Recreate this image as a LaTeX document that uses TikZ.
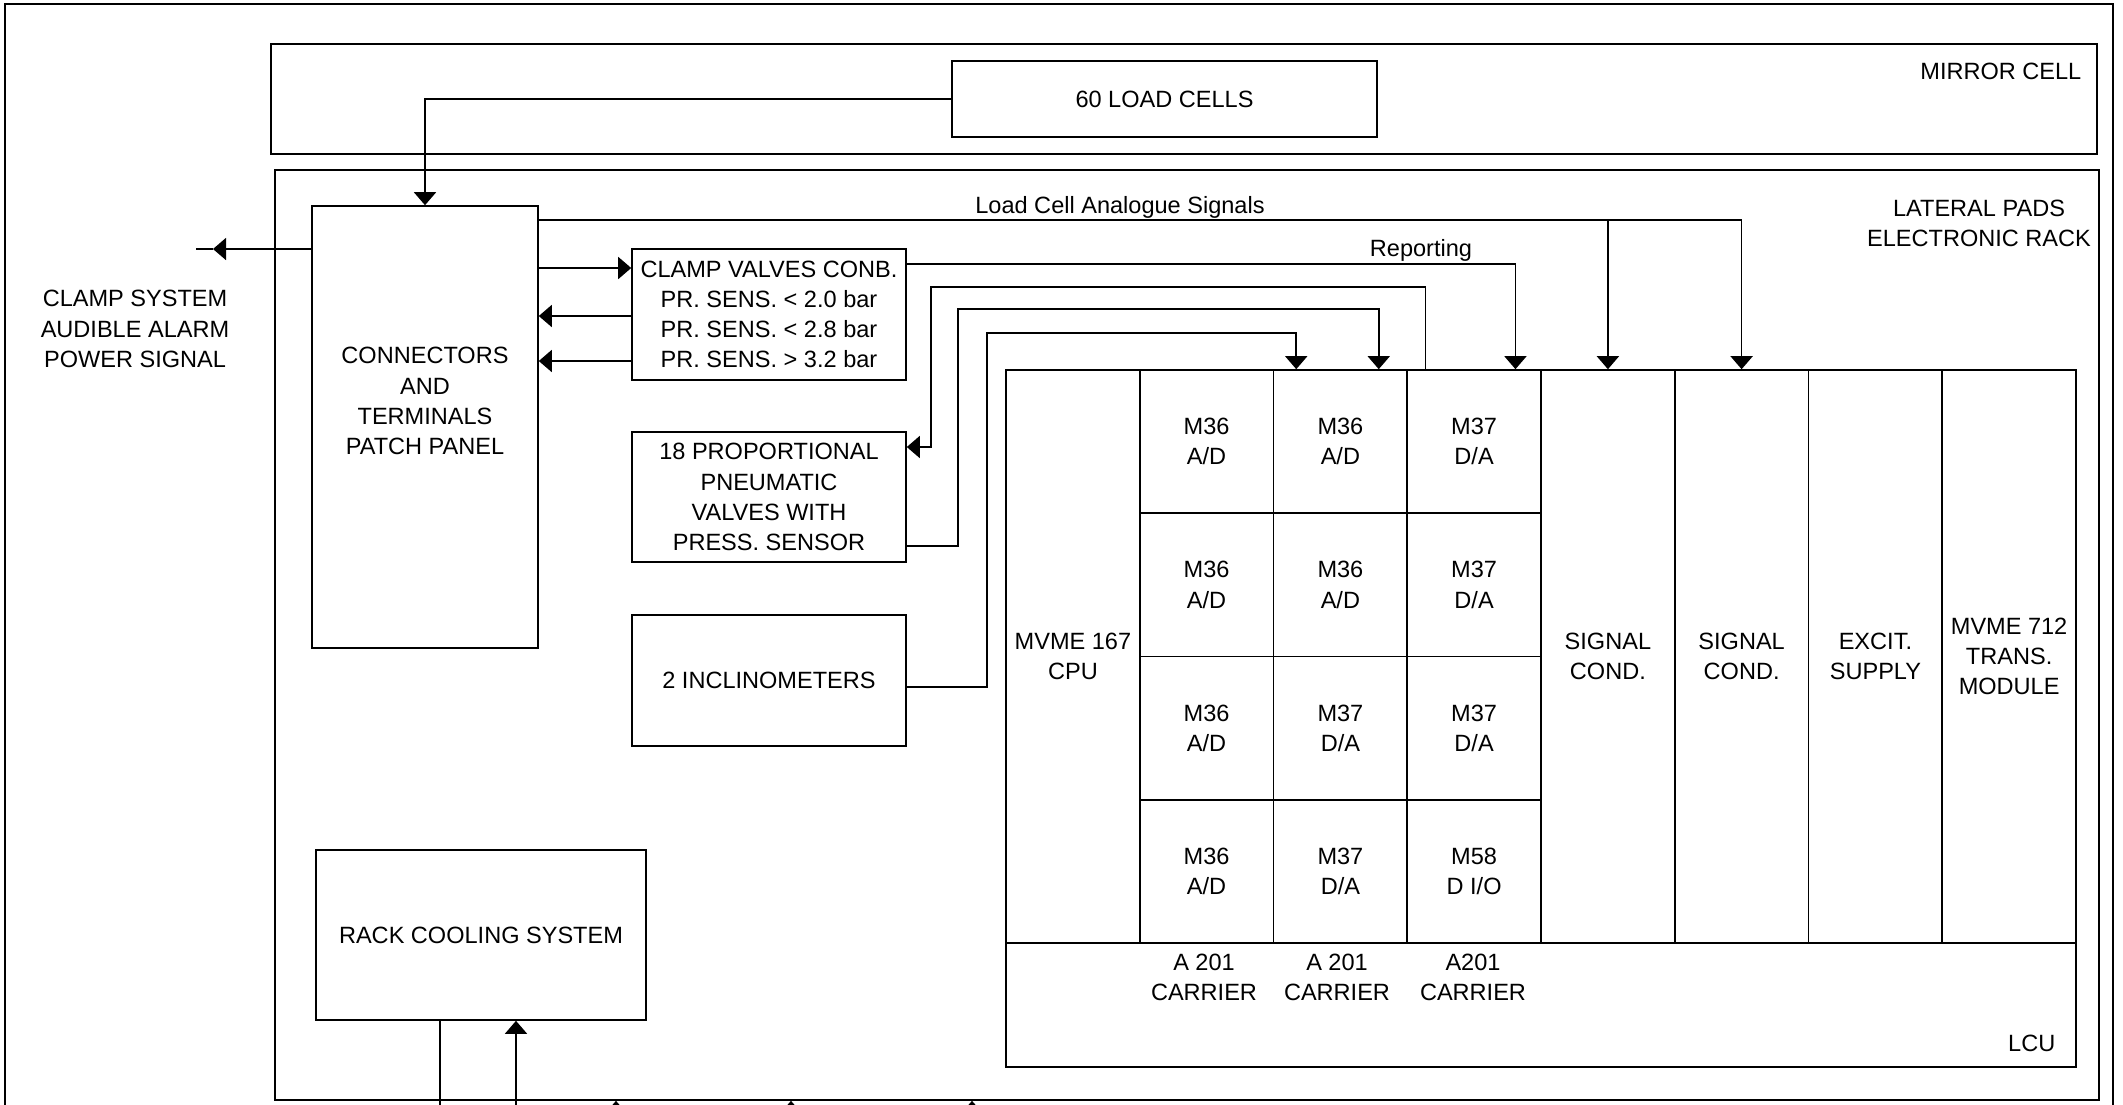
\documentclass[tikz,border=0pt]{standalone}
\usepackage{fontspec}
\setmainfont{Liberation Sans}
\usetikzlibrary{arrows.meta,calc}
\newcommand{\diagfont}{\fontsize{6.7}{8.6}\selectfont}

\begin{document}
\begin{tikzpicture}[
      x=0.1mm,y=-0.1mm,
      box/.style={draw,line width=0.45pt,inner sep=0pt,align=center,font=\diagfont},
      cell/.style={box,minimum width=13.375mm,minimum height=14.325mm},
      slot/.style={box,minimum width=13.375mm,minimum height=57.3mm},
      txt/.style={inner sep=0pt,align=center,font=\diagfont},
      wire/.style={line width=0.45pt},
      arr/.style={wire,-{Triangle[length=1.3mm,width=2.2mm]}},
    ]
    \useasboundingbox (0,0) rectangle (2123,1104);
    \clip (0,0) rectangle (2123,1104);
    \draw[wire] (5,4) rectangle (2113,1130);

    % mirror cell
    \node[box,minimum width=182.6mm,minimum height=11mm] (mirror) at (1184,99) {};
    \node[txt,anchor=east] at (2082,71) {MIRROR CELL};
    \node[box,minimum width=42.5mm,minimum height=7.6mm] (cells) at (1164.5,99) {60 LOAD CELLS};

    % electronic rack
    \node[box,minimum width=182.4mm,minimum height=93mm] (rack) at (1187,635) {};
    \node[txt] at (1979,223) {LATERAL PADS\\ELECTRONIC RACK};

    \node[box,minimum width=22.6mm,minimum height=44.2mm] (patch) at (425,427) {};
    \node[txt] at (425,401) {CONNECTORS\\AND\\TERMINALS\\PATCH PANEL};
    \node[box,minimum width=27.4mm,minimum height=13.1mm] (clamp) at (769,314.5)
         {CLAMP VALVES CONB.\\PR. SENS. < 2.0 bar\\PR. SENS. < 2.8 bar\\PR. SENS. > 3.2 bar};
    \node[box,minimum width=27.4mm,minimum height=13mm] (prop) at (769,497)
         {18 PROPORTIONAL\\PNEUMATIC\\VALVES WITH\\PRESS. SENSOR};
    \node[box,minimum width=27.4mm,minimum height=13.1mm] (incl) at (769,680.5) {2 INCLINOMETERS};
    \node[box,minimum width=33mm,minimum height=17mm] (cool) at (481,935) {RACK COOLING SYSTEM};

    % LCU
    \node[box,minimum width=107mm,minimum height=69.7mm] (lcu) at (1541,718.5) {};
    \node[txt,anchor=east] at (2056,1043) {LCU};
    \node[slot] (cpu) at (1072.9,656.5) {MVME 167\\CPU};
    \node[cell] (m11) at (1206.6,441.6) {M36\\A/D};
    \node[cell] (m12) at (1340.4,441.6) {M36\\A/D};
    \node[cell] (m13) at (1474.1,441.6) {M37\\D/A};
    \node[cell] (m21) at (1206.6,584.9) {M36\\A/D};
    \node[cell] (m22) at (1340.4,584.9) {M36\\A/D};
    \node[cell] (m23) at (1474.1,584.9) {M37\\D/A};
    \node[cell] (m31) at (1206.6,728.1) {M36\\A/D};
    \node[cell] (m32) at (1340.4,728.1) {M37\\D/A};
    \node[cell] (m33) at (1474.1,728.1) {M37\\D/A};
    \node[cell] (m41) at (1206.6,871.4) {M36\\A/D};
    \node[cell] (m42) at (1340.4,871.4) {M37\\D/A};
    \node[cell] (m43) at (1474.1,871.4) {M58\\D I/O};
    \node[slot] (sc1) at (1607.9,656.5) {SIGNAL\\COND.};
    \node[slot] (sc2) at (1741.6,656.5) {SIGNAL\\COND.};
    \node[slot] (excit) at (1875.4,656.5) {EXCIT.\\SUPPLY};
    \node[slot] (trans) at (2009.1,656.5) {MVME 712\\TRANS.\\MODULE};
    \node[txt] at (1204,977) {A 201\\CARRIER};
    \node[txt] at (1337,977) {A 201\\CARRIER};
    \node[txt] at (1473,977) {A201\\CARRIER};

    % signals
    \draw[arr] (cells.west) -| (patch.north);
    \draw[arr] (patch.east |- 0,220) -| (sc2.north);
    \draw[arr] (sc1.north |- 0,220) -- (sc1.north);
    \node[txt] at (1120,207) {Load Cell Analogue Signals};
    \draw[arr] (clamp.east |- 0,264) -| ($(m13.north west)+(109,0)$);
    \node[txt] at (1421,250) {Reporting};
    \draw[arr] ($(m13.north west)+(19,0)$) |- (931,287) |- (prop.east |- 0,447);
    \draw[arr] (prop.east |- 0,546) -| (958,309) -| ($(m12.north west)+(106,0)$);
    \draw[arr] (incl.east |- 0,687) -| (987,333) -| ($(m12.north west)+(23.5,0)$);

    \draw[arr] (patch.east |- 0,268) -- (clamp.west |- 0,268);
    \draw[arr] (clamp.west |- 0,316) -- (patch.east |- 0,316);
    \draw[arr] (clamp.west |- 0,361) -- (patch.east |- 0,361);

    \coordinate (alarm) at (196,249);
    \draw[arr] (patch.west |- alarm) -- ($(alarm)+(17,0)$);
    \draw[wire] ($(alarm)+(17,0)$) -- (alarm);
    \node[txt] at (135,329) {CLAMP SYSTEM\\AUDIBLE ALARM\\POWER SIGNAL};

    % cooling and lines leaving the rack
    \draw[wire] (cool.south -| 440,0) -- ++(0,120);
    \draw[arr] (516,1140) -- (cool.south -| 516,0);
    \foreach \xb in {616,791,972}
      \draw[arr] (\xb,1150) -- (rack.south -| \xb,0);
  \end{tikzpicture}
\end{document}
